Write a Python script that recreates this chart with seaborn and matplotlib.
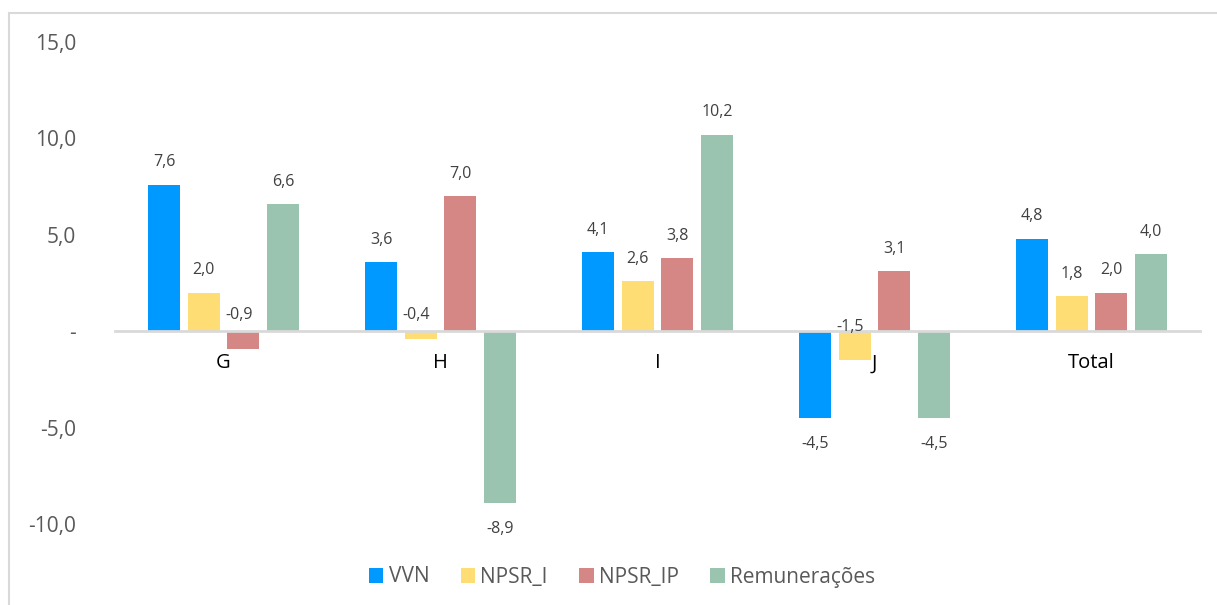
import matplotlib
matplotlib.use('Agg')
import matplotlib.pyplot as plt
from matplotlib.patches import Rectangle
import pandas as pd
import seaborn as sns

categories = ['G', 'H', 'I', 'J', 'Total']
series = ['VVN', 'NPSR_I', 'NPSR_IP', 'Remunerações']
vvn = [7.6, 3.6, 4.1, -4.5, 4.8]
npsr_i = [2.0, -0.4, 2.6, -1.5, 1.8]
npsr_ip = [-0.9, 7.0, 3.8, 3.1, 2.0]
remuneracoes = [6.6, -8.9, 10.2, -4.5, 4.0]
colors = ['#0099FF', '#FFDD75', '#D48785', '#9AC4B0']
yticks = [-10, -5, 0, 5, 10, 15]
ytick_labels = ['-10,0', '-5,0', '-', '5,0', '10,0', '15,0']

rows = []
for name, vals in zip(series, [vvn, npsr_i, npsr_ip, remuneracoes]):
    for cat, v in zip(categories, vals):
        rows.append({'cat': cat, 'serie': name, 'valor': v})
df = pd.DataFrame(rows)

sns.set_style('white')
plt.rcParams['font.family'] = ['Open Sans', 'DejaVu Sans']

fig = plt.figure(figsize=(12.17, 6.05), dpi=100)
W, H = 1217, 605
ax = fig.add_axes([115 / W, 1 - 524 / H, (1200 - 115) / W, (524 - 42) / H])

sns.barplot(data=df, x='cat', y='valor', hue='serie', order=categories,
            hue_order=series, palette=colors, width=0.73, gap=0.2,
            saturation=1, linewidth=0, ax=ax, legend=True)

ax.set_ylim(-10, 15)
ax.set_xlim(-0.5, len(categories) - 0.5)
ax.set_yticks(yticks)
ax.set_yticklabels(ytick_labels)
ax.tick_params(axis='y', length=0, pad=28, labelsize=15, labelcolor='#595959')
ax.tick_params(axis='x', length=0, pad=16, labelsize=14.5, labelcolor='#000000')
ax.set_xlabel('')
ax.set_ylabel('')
for s in ['left', 'right', 'top']:
    ax.spines[s].set_visible(False)
ax.spines['bottom'].set_position(('data', 0))
ax.spines['bottom'].set_color('#D9D9D9')
ax.spines['bottom'].set_linewidth(2)
ax.set_zorder(1)

# data labels
for cont in ax.containers:
    for bar in cont:
        v = bar.get_y() + bar.get_height() if bar.get_y() >= 0 else bar.get_y()
        x = bar.get_x() + bar.get_width() / 2
        txt = f'{v:.1f}'.replace('.', ',')
        if v >= 0:
            ax.annotate(txt, (x, v), xytext=(0, 16), textcoords='offset points',
                        ha='center', va='center', fontsize=11.5, color='#404040')
        elif v > -2:
            off = 3 if v < -1 else 12
            ax.annotate(txt, (x, 0), xytext=(-3, off), textcoords='offset points',
                        ha='center', va='center', fontsize=11.5, color='#404040')
        else:
            ax.annotate(txt, (x, v), xytext=(0, -19), textcoords='offset points',
                        ha='center', va='center', fontsize=11.5, color='#404040')

handles, labels = ax.get_legend_handles_labels()
ax.legend(handles, labels, loc='center', bbox_to_anchor=(622 / W, 1 - 577 / H),
          bbox_transform=fig.transFigure, ncol=4, frameon=False, fontsize=15,
          handlelength=0.7, handleheight=0.7, handletextpad=0.25,
          columnspacing=1.5, labelcolor='#595959')

# chart border (cropped Excel frame)
fig.add_artist(Rectangle((9 / W, -0.1), 2, 1 - 13 / H + 0.1,
                         transform=fig.transFigure, fill=False,
                         ec='#D9D9D9', lw=1.5))

fig.savefig('out.png', dpi=100)
plt.close()
